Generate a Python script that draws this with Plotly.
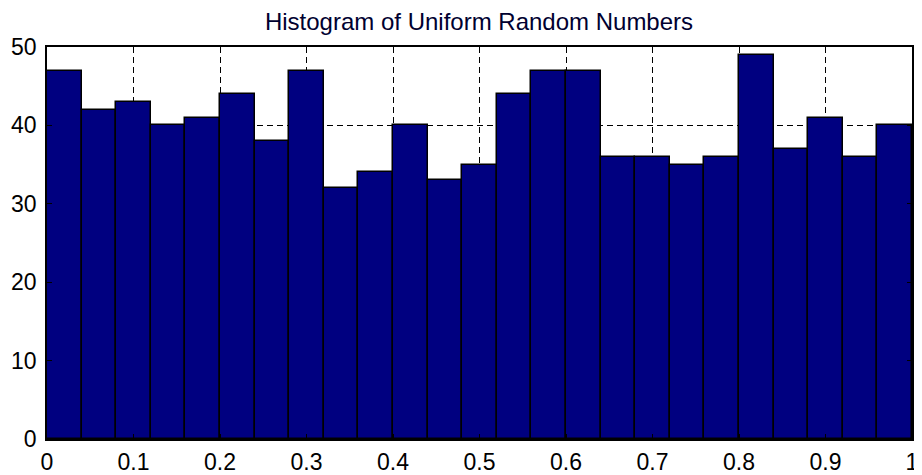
import plotly.graph_objects as go

# Histogram data: 25 equal-width bins over [0, 1]
bin_start = 0.0
bin_width = 0.04
counts = [47, 42, 43, 40, 41, 44, 38, 47, 32, 34, 40, 33, 35,
          44, 47, 47, 36, 36, 35, 36, 49, 37, 41, 36, 40]
x_ticks = [0, 0.1, 0.2, 0.3, 0.4, 0.5, 0.6, 0.7, 0.8, 0.9, 1]
x_tick_labels = ["0", "0.1", "0.2", "0.3", "0.4", "0.5", "0.6", "0.7", "0.8", "0.9", "1"]
y_ticks = [0, 10, 20, 30, 40, 50]
title_text = "Histogram of Uniform Random Numbers"

centers = [bin_start + bin_width * (i + 0.5) for i in range(len(counts))]

fig = go.Figure()
fig.add_trace(go.Bar(
    x=centers, y=counts, width=bin_width,
    marker=dict(color="#000080", line=dict(color="black", width=1.5)),
    hoverinfo="x+y",
))

font_family = "Liberation Sans, Arial, sans-serif"

# The page body adds an 8px offset, so the figure is sized to fill the rest.
W, H = 914, 467
fig.update_layout(
    width=W, height=H,
    margin=dict(l=39, r=10, t=39, b=36),
    paper_bgcolor="white", plot_bgcolor="white",
    showlegend=False,
    bargap=0,
    title=dict(text=title_text, x=(479 - 8) / W, xanchor="center",
               y=1 - 14 / H, yanchor="middle", yref="container",
               font=dict(family=font_family, size=24, color="#000030")),
    xaxis=dict(range=[0, 1], tickvals=x_ticks, ticktext=x_tick_labels,
               automargin=False,
               showline=True, linecolor="black", linewidth=1.5, mirror="ticks",
               ticks="inside", ticklen=5, tickcolor="black",
               showgrid=True, gridcolor="black", gridwidth=1, griddash="6px,4px",
               zeroline=False, ticklabelstandoff=2,
               tickfont=dict(family=font_family, size=23, color="black")),
    yaxis=dict(range=[0, 50], tickvals=y_ticks,
               automargin=False,
               showline=True, linecolor="black", linewidth=1.5, mirror="ticks",
               ticks="inside", ticklen=5, tickcolor="black",
               showgrid=True, gridcolor="black", gridwidth=1, griddash="6px,4px",
               zeroline=False, ticklabelstandoff=4,
               tickfont=dict(family=font_family, size=23, color="black")),
)

fig.write_html("out.html")
